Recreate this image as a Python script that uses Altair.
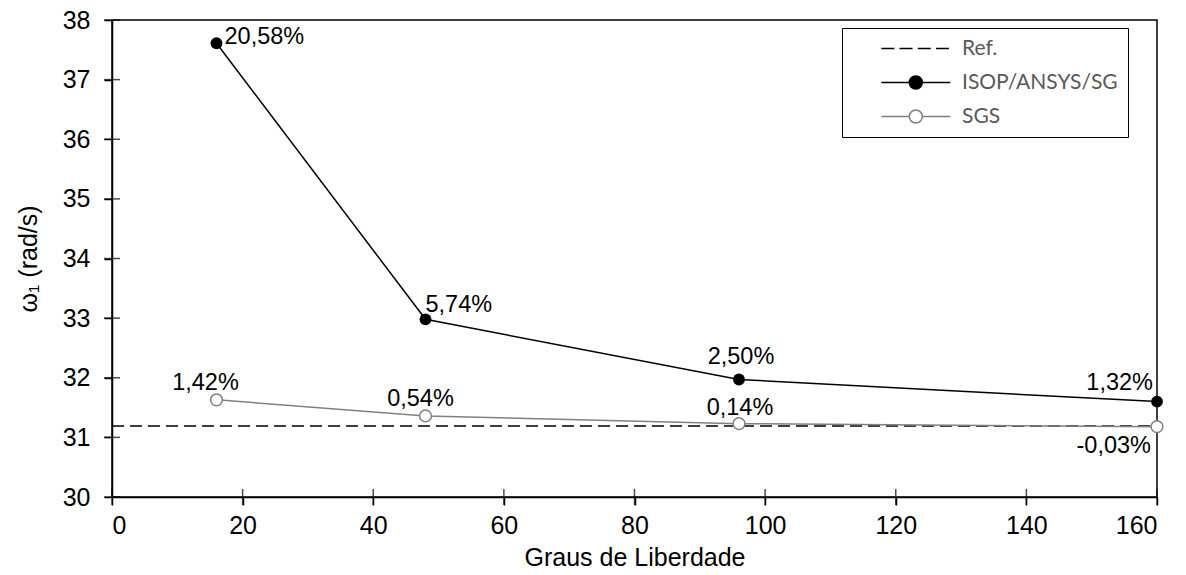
import altair as alt
import pandas as pd

# data
x_gdl = [16, 48, 96, 160]
y_isop = [37.61, 32.98, 31.97, 31.60]
y_sgs = [31.63, 31.36, 31.23, 31.18]
lab_isop = ["20,58%", "5,74%", "2,50%", "1,32%"]
lab_sgs = ["1,42%", "0,54%", "0,14%", "-0,03%"]
ref_x = [0, 160]
ref_val = 31.19
series_names = ["Ref.", "ISOP/ANSYS/SG", "SGS"]
x_ticks = [0, 20, 40, 60, 80, 100, 120, 140, 160]
y_ticks = [30, 31, 32, 33, 34, 35, 36, 37, 38]

df_isop = pd.DataFrame({"x": x_gdl, "y": y_isop, "lab": lab_isop})
df_sgs = pd.DataFrame({"x": x_gdl, "y": y_sgs, "lab": lab_sgs})
df_ref = pd.DataFrame({"x": ref_x, "y": [ref_val, ref_val]})
df_leg = pd.DataFrame({"series": series_names, "x": [0, 16, 16], "y": [ref_val, y_isop[0], y_sgs[0]]})
df_xt = pd.DataFrame({"x": x_ticks, "y": [y_ticks[0]] * len(x_ticks)})
df_yt = pd.DataFrame({"x": [x_ticks[0]] * len(y_ticks), "y": y_ticks})

GRAY = "#808080"
FONT = "Liberation Sans"

xs = alt.Scale(domain=[0, 160], nice=False, zero=False)
ys = alt.Scale(domain=[30, 38], nice=False, zero=False)
X = alt.X("x:Q", scale=xs, axis=alt.Axis(values=x_ticks, title="Graus de Liberdade"))
Y = alt.Y("y:Q", scale=ys, axis=alt.Axis(values=y_ticks, title="ω₁ (rad/s)"))

ref_line = alt.Chart(df_ref).mark_line(color="black", strokeWidth=1.5, strokeDash=[12, 6]).encode(x=X, y=Y)
isop_line = alt.Chart(df_isop).mark_line(color="black", strokeWidth=1.5).encode(x=X, y=Y)
sgs_line = alt.Chart(df_sgs).mark_line(color=GRAY, strokeWidth=1.5).encode(x=X, y=Y)
isop_pts = alt.Chart(df_isop).mark_point(filled=True, color="black", size=140, opacity=1).encode(x=X, y=Y)
sgs_pts = alt.Chart(df_sgs).mark_point(shape="circle", fill="white", stroke=GRAY, strokeWidth=1.5,
                                        size=140, opacity=1, filled=False).encode(x=X, y=Y)

# crossing tick marks on the axes
xtick_marks = alt.Chart(df_xt).mark_tick(orient="vertical", color="black", thickness=1.5, size=16).encode(x=X, y=Y)
ytick_marks = alt.Chart(df_yt).mark_tick(orient="horizontal", color="black", thickness=1.5, size=16).encode(x=X, y=Y)

# label placements (style)
isop_style = [("left", 8, -6), ("left", 0, -14), ("center", 2, -23), ("right", -4, -19)]
sgs_style = [("center", -11, -17), ("center", -5, -17), ("center", 1, -16), ("right", -6, 19)]

labels = []
for df, styles in [(df_isop, isop_style), (df_sgs, sgs_style)]:
    for i, (al, dx, dy) in enumerate(styles):
        labels.append(
            alt.Chart(df.iloc[[i]]).mark_text(align=al, baseline="middle", dx=dx, dy=dy,
                                              font=FONT, fontSize=23.5, color="black")
            .encode(x=X, y=Y, text="lab:N")
        )

P_REF = "M2.9,0H4.9M5.7,0H7.7M8.5,0H10.5M11.3,0H13.3"
P_ISOP = "M2.9,0H7.2M9.2,0H13.5M9.2,0A1,1 0 1 1 7.2,0A1,1 0 1 1 9.2,0"
P_SGS = P_ISOP

legend_layer = alt.Chart(df_leg).mark_point(opacity=0, strokeWidth=1.5).encode(
    x=X, y=Y,
    shape=alt.Shape("series:N", scale=alt.Scale(domain=series_names, range=[P_REF, P_ISOP, P_SGS]),
                    legend=alt.Legend(title=None, orient="none", legendX=730, legendY=8)),
    stroke=alt.Stroke("series:N", scale=alt.Scale(domain=series_names, range=["black", "black", GRAY])),
    fill=alt.Fill("series:N", scale=alt.Scale(domain=series_names, range=["transparent", "black", "white"])),
)

chart = alt.layer(ref_line, isop_line, sgs_line, isop_pts, sgs_pts, xtick_marks, ytick_marks,
                  *labels, legend_layer).properties(
    width=1045, height=477,
    autosize=alt.AutoSizeParams(type="none"),
    padding={"left": 104, "top": 12, "right": 20, "bottom": 90},
).configure_view(stroke="black", strokeWidth=1.5).configure_axis(
    grid=False, domainColor="black", domainWidth=1.5, tickColor="black", tickWidth=1.5, tickSize=8,
    labelFont=FONT, labelFontSize=25, labelColor="black",
    titleFont=FONT, titleFontSize=25, titleColor="black", titleFontWeight="normal",
).configure_axisY(titlePadding=21, labelPadding=14).configure_axisX(titlePadding=7, labelPadding=8).configure_legend(
    strokeColor="black", fillColor="white", padding=10, symbolSize=169, symbolStrokeWidth=1.5,
    symbolOpacity=1, labelFont="Lato", labelFontSize=21, labelColor="#595959", labelOffset=89,
    rowPadding=12, cornerRadius=0,
)

chart.save("out.html", embed_options={"renderer": "svg", "actions": False})
